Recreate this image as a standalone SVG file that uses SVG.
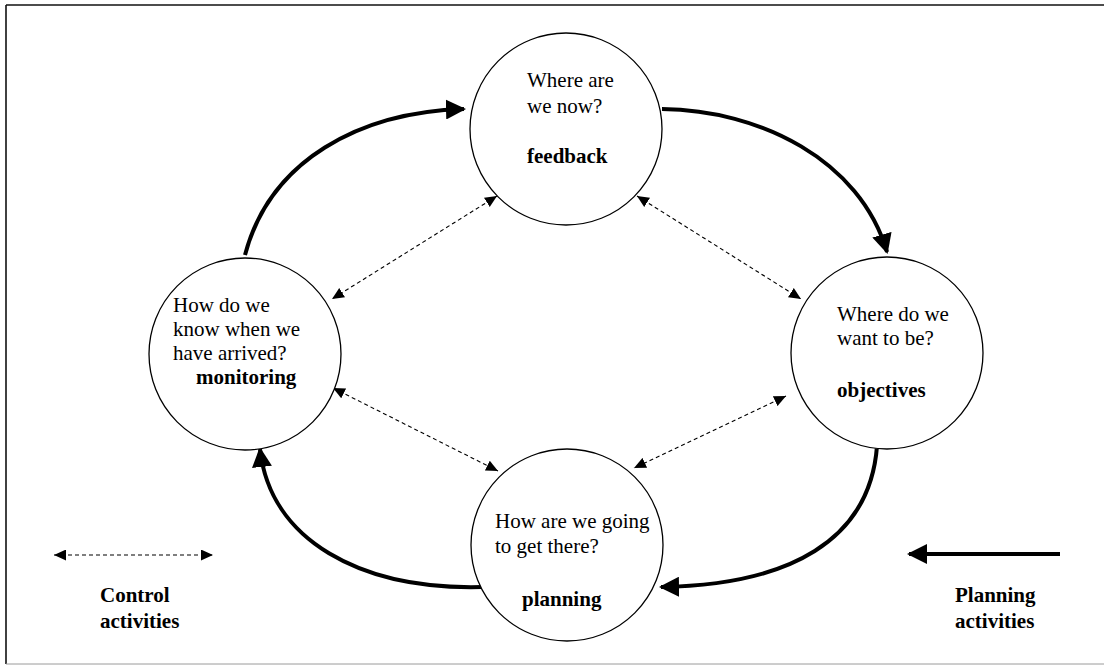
<svg xmlns="http://www.w3.org/2000/svg" width="1104" height="666" viewBox="0 0 1104 666">
  <style>
    .node { fill: #ffffff; stroke: #000000; stroke-width: 1.3; }
    .txt { font-family: "Liberation Serif", "Times New Roman", serif; font-size: 21px; fill: #000000; }
    .bold { font-weight: bold; }
    .plan { fill: none; stroke: #000000; stroke-width: 4; marker-end: url(#bigHead); }
    .ctrl { fill: none; stroke: #000000; stroke-width: 1.1; stroke-dasharray: 4 3; marker-start: url(#smallHeadStart); marker-end: url(#smallHead); }
  </style>
  <defs>
    <marker id="bigHead" viewBox="0 0 20 20" refX="18" refY="10" markerWidth="20" markerHeight="20" markerUnits="userSpaceOnUse" orient="auto">
      <path d="M0,0 L20,10 L0,20 Z" fill="#000000"/>
    </marker>
    <marker id="smallHead" viewBox="0 0 12 11" refX="12" refY="5.5" markerWidth="12" markerHeight="11" markerUnits="userSpaceOnUse" orient="auto">
      <path d="M0,0 L12,5.5 L0,11 Z" fill="#000000"/>
    </marker>
    <marker id="smallHeadStart" viewBox="0 0 12 11" refX="0" refY="5.5" markerWidth="12" markerHeight="11" markerUnits="userSpaceOnUse" orient="auto">
      <path d="M12,0 L0,5.5 L12,11 Z" fill="#000000"/>
    </marker>
  </defs>

  <rect width="1104" height="666" fill="#ffffff"/>

  <!-- frame -->
  <g id="frame" fill="none">
    <line x1="6" y1="5" x2="1104" y2="5" stroke="#111111" stroke-width="1.6"/>
    <line x1="6" y1="5" x2="6" y2="664" stroke="#111111" stroke-width="1.6"/>
    <line x1="6" y1="664" x2="1104" y2="664" stroke="#9a9a9a" stroke-width="1"/>
  </g>

  <!-- connectors -->
  <g id="connectors">
    <!-- planning cycle (solid) -->
    <path class="plan" d="M245,255 C270,160 360,112 464,109"/>
    <path class="plan" d="M662,109 C760,110 860,160 887,252"/>
    <path class="plan" d="M877,446 C870,540 790,585 661,587"/>
    <path class="plan" d="M482,587 C360,590 270,540 260,449"/>
    <!-- control links (dashed, two-way) -->
    <line class="ctrl" x1="497" y1="196" x2="332" y2="299"/>
    <line class="ctrl" x1="637" y1="196" x2="801" y2="299"/>
    <line class="ctrl" x1="333" y1="388" x2="498" y2="471"/>
    <line class="ctrl" x1="786" y1="396" x2="634" y2="468"/>
  </g>

  <g id="feedback">
    <circle class="node" cx="566" cy="129" r="96"/>
    <text class="txt" x="527" y="87">Where are</text>
    <text class="txt" x="527" y="113">we now?</text>
    <text class="txt bold" x="527" y="163">feedback</text>
  </g>

  <g id="objectives">
    <circle class="node" cx="887" cy="353" r="96"/>
    <text class="txt" x="837" y="321">Where do we</text>
    <text class="txt" x="837" y="345">want to be?</text>
    <text class="txt bold" x="837" y="397">objectives</text>
  </g>

  <g id="planning">
    <circle class="node" cx="567" cy="545" r="96"/>
    <text class="txt" x="495" y="528">How are we going</text>
    <text class="txt" x="495" y="553">to get there?</text>
    <text class="txt bold" x="522" y="606">planning</text>
  </g>

  <g id="monitoring">
    <circle class="node" cx="245" cy="354" r="96"/>
    <text class="txt" x="173" y="312">How do we</text>
    <text class="txt" x="173" y="336">know when we</text>
    <text class="txt" x="173" y="360">have arrived?</text>
    <text class="txt bold" x="196" y="384">monitoring</text>
  </g>

  <g id="legend-control">
    <line class="ctrl" x1="54" y1="555" x2="213" y2="555"/>
    <text class="txt bold" x="100" y="602">Control</text>
    <text class="txt bold" x="100" y="628">activities</text>
  </g>

  <g id="legend-planning">
    <line class="plan" x1="1060" y1="554" x2="909" y2="554"/>
    <text class="txt bold" x="955" y="602">Planning</text>
    <text class="txt bold" x="955" y="628">activities</text>
  </g>
</svg>
